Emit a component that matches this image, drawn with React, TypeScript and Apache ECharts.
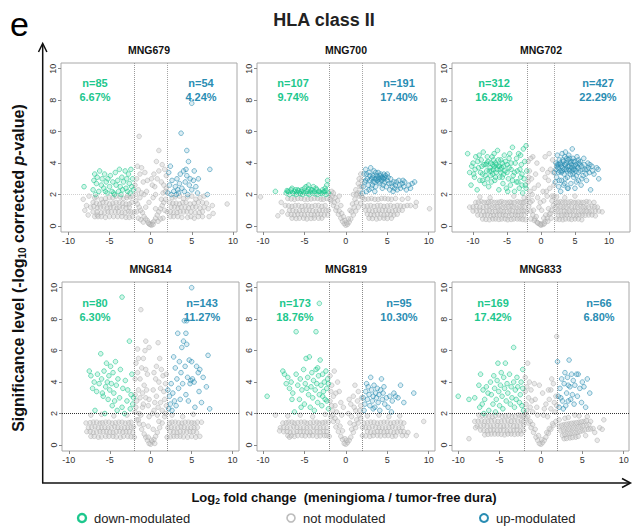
import React, { useEffect, useRef } from 'react';
import * as echarts from 'echarts';

const panelNames = ['MNG679', 'MNG700', 'MNG702', 'MNG814', 'MNG819', 'MNG833'];
const downCounts = ['n=85', 'n=107', 'n=312', 'n=80', 'n=173', 'n=169'];
const downPct = ['6.67%', '9.74%', '16.28%', '6.30%', '18.76%', '17.42%'];
const upCounts = ['n=54', 'n=191', 'n=427', 'n=143', 'n=95', 'n=66'];
const upPct = ['4.24%', '17.40%', '22.29%', '11.27%', '10.30%', '6.80%'];
const xTicks = [-10, -5, 0, 5, 10];
const yTicks = [0, 2, 4, 6, 8, 10];
const foldThreshold = 2;
const sigThreshold = 2;
const legendLabels = ['down-modulated', 'not modulated', 'up-modulated'];

// ---------- MNG679 ----------
const grey679 = [[0,0.1],[0.2,0.2],[-0.2,0.15],[0.4,0.3],[-0.4,0.35],[0.6,0.5],[-0.6,0.45],[0.8,0.7],[-0.8,0.6],[1,0.9],[-1,0.85],[1.2,1.1],[-1.2,1],[1.4,1.3],[-1.4,1.2],[1.6,1.5],[-1.6,1.4],[1.8,1.7],[-1.8,1.6],[0.1,0.05],[-0.1,0.1],[0.3,0.1],[-0.3,0.2],
[0.5,2.5],[0.8,3.0],[1.0,3.5],[1.3,2.8],[1.7,3.6],[1.9,2.4],[-0.5,2.2],[-0.9,2.8],[-1.3,3.3],[-1.6,3.8],[-1.9,2.6],[-1.1,2.1],[0.3,1.8],[0.6,2.0],[-0.2,1.5],[1.5,2.1],[-1.5,2.3],[0.7,4.1],[1.0,4.8],[-1.4,5.7],[0.1,3.0],[1.9,3.2],[-0.7,3.4],
[-7.5,1.9],[-6.8,1.8],[-6,1.7],[-5,1.8],[-4.2,1.9],[-3.3,1.75],[-2.5,1.85],[2.6,1.8],[3.5,1.9],[4.5,1.85],[5.5,1.7],[6.5,1.9],
[-7,1.5],[-6.2,1.4],[-5.4,1.5],[-4.6,1.45],[-3.8,1.5],[-3,1.4],[-2.3,1.5],[2.3,1.5],[3.1,1.45],[3.9,1.5],[4.8,1.4],[5.8,1.5],[6.8,1.45],
[-7.3,1.2],[-6.5,1.15],[-5.7,1.2],[-4.9,1.2],[-4.1,1.15],[-3.4,1.2],[-2.6,1.2],[2.5,1.2],[3.3,1.15],[4.2,1.2],[5.1,1.2],[6,1.15],[7,1.1],
[-7,0.9],[-6,0.85],[-5.2,0.9],[-4.3,0.9],[-3.5,0.85],[-2.7,0.9],[-2,0.9],[2,0.9],[2.8,0.85],[3.6,0.9],[4.4,0.9],[5.4,0.85],[6.3,0.9],
[-6.8,0.6],[-6,0.6],[-5,0.6],[-4,0.6],[-3,0.55],[-2.2,0.6],[-1.5,0.5],[1.5,0.5],[2.4,0.6],[3.3,0.6],[4.5,0.55],[5.3,0.5],[6.3,0.6],[7.1,0.6],
[9.3,1.4],[-8.2,1.7],[-6.5,0.7],
[-6.6,1.85],[-5.5,1.75],[-4.6,1.8],[-3.7,1.85],[-2.9,1.8],[-2.2,1.9],[3.0,1.85],[4.0,1.75],[5.0,1.9],[6.0,1.8],
[-6.6,1.45],[-5.8,1.5],[-5.0,1.4],[-4.2,1.5],[-3.4,1.45],[-2.6,1.4],[2.7,1.45],[3.5,1.4],[4.3,1.5],[5.3,1.45],[6.3,1.5],
[-6.9,1.25],[-6.1,1.2],[-5.3,1.15],[-4.5,1.2],[-3.8,1.2],[-3.0,1.15],[2.9,1.2],[3.7,1.2],[4.6,1.15],[5.5,1.2],[6.5,1.2],
[-6.5,0.9],[-5.6,0.85],[-4.8,0.9],[-3.9,0.9],[-3.1,0.85],[-2.4,0.9],[2.4,0.9],[3.2,0.85],[4.0,0.9],[4.9,0.9],[5.9,0.85],
[-6.4,0.6],[-5.5,0.55],[-4.5,0.6],[-3.5,0.6],[-2.6,0.55],[2.8,0.6],[3.8,0.55],[4.9,0.6],[5.8,0.6],
[-1.2,0.4],[1.2,0.45],[-0.9,0.25],[0.9,0.3],[-1.7,0.9],[1.7,1.0],[-1.3,1.8],[1.3,1.7],[-0.6,1.2],[0.6,1.1],[-1.8,2.0],[1.8,2.2],[-0.4,2.9],[0.4,3.3],[1.4,3.9],[-1.1,3.7],[-1.7,3.0],[1.6,2.6],[-0.8,2.0],[0.2,2.6],
[-7.8,1.3],[-7.6,0.7],[7.5,1.3],[7.6,0.8],[-8.0,1.0],[-2.8,1.95]];
const down679 = [[-8.1,2.5],[-7,2.3],[-6.9,2.9],[-6.8,3.3],[-6.6,2.7],[-6.5,3.1],[-6.3,2.2],[-6.2,3.5],[-6,2.6],[-5.9,3.0],[-5.7,2.4],[-5.6,3.3],[-5.4,2.8],[-5.3,2.1],[-5.2,3.0],[-5.0,2.5],[-4.9,3.2],[-4.7,2.2],[-4.6,2.8],[-4.5,2.1],[-4.3,3.4],[-4.2,2.6],[-4.0,2.9],[-3.9,2.2],[-3.8,3.6],[-3.7,2.5],[-3.5,3.1],[-3.4,2.3],[-3.3,2.8],[-3.1,3.5],[-3.0,2.4],[-2.9,3.0],[-2.8,2.2],[-2.7,3.3],[-2.6,2.7],[-2.5,2.1],[-2.4,3.6],[-2.3,2.5],[-2.2,3.0],[-2.1,2.3],[-6.7,2.0],[-5.5,2.2],[-4.4,2.0],[-3.6,2.0]];
const up679 = [[2.1,2.1],[2.2,3.4],[2.3,2.6],[2.5,2.0],[2.6,2.9],[2.8,2.2],[3.0,2.5],[3.1,2.0],[3.2,3.0],[3.4,2.1],[3.5,2.7],[3.6,3.3],[3.8,2.4],[3.7,5.9],[4.0,3.5],[4.1,2.2],[4.2,2.8],[4.4,3.2],[4.4,4.8],[4.5,2.0],[4.6,4.1],[4.7,2.6],[4.8,3.0],[5.0,2.3],[5.0,7.8],[5.2,2.9],[5.3,3.5],[5.5,2.5],[5.7,2.1],[5.8,3.0],[6.9,2.0],[7.2,3.6],[2.4,3.8],[3.3,2.3],[4.3,3.6]];

// ---------- MNG700 ----------
const grey700 = [[0,0.05],[0.2,0.1],[-0.2,0.15],[0.4,0.25],[-0.4,0.3],[0.6,0.45],[-0.6,0.5],[0.9,0.7],[-0.9,0.75],[1.2,0.95],[-1.2,1.0],[1.5,1.2],[-1.5,1.3],[1.8,1.45],[-1.8,1.6],[0.1,0.2],[-0.1,0.35],[0.3,0.45],[-0.3,0.6],
[-1.9,2.0],[-1.6,1.9],[-1.3,1.8],[-1.0,1.6],[-0.6,1.3],[-1.7,2.2],[0.5,1.0],[0.8,1.4],[1.1,1.7],[1.4,2.1],[1.7,2.5],[1.9,2.9],[1.6,1.9],[1.2,2.3],[0.9,2.0],[-0.8,1.9],[1.8,3.3],[1.5,2.7],
[-7,1.75],[-6.2,1.7],[-5.4,1.75],[-4.6,1.7],[-3.8,1.75],[-3,1.7],[-2.3,1.75],[2.3,1.7],[3.1,1.75],[3.9,1.7],[4.7,1.75],[5.5,1.7],
[-7.3,1.3],[-6.5,1.25],[-5.7,1.3],[-4.9,1.3],[-4.1,1.25],[-3.3,1.3],[-2.5,1.3],[2.2,1.25],[3,1.3],[3.8,1.3],[4.6,1.25],[5.4,1.3],[6.2,1.3],[7,1.25],[7.8,1.3],[8.4,1.25],
[-6.8,1.0],[-6,0.95],[-5.2,1.0],[-4.4,1.0],[-3.6,0.95],[-2.8,1.0],[-2.1,1.0],[2.4,1.0],[3.2,0.95],[4,1.0],[4.8,1.0],[5.6,0.95],[6.4,1.0],
[-7,0.75],[-6.2,0.7],[-5.4,0.75],[-4.6,0.75],[-3.8,0.7],[-3,0.75],[-2.2,0.7],[2.6,0.75],[3.4,0.7],[4.2,0.75],[5,0.75],[5.8,0.7],
[-6.5,0.5],[-5.6,0.5],[-4.7,0.45],[-3.8,0.5],[-2.9,0.5],[2.8,0.5],[3.7,0.45],[4.6,0.5],[5.5,0.5],
[-10.3,1.85],[-8.2,0.65],[-7.7,0.9],[10.1,1.1],[-7.8,1.5],[8.5,1.5],
[-6.6,1.72],[-5.8,1.75],[-5.0,1.7],[-4.2,1.72],[-3.4,1.75],[-2.7,1.7],[2.7,1.72],[3.5,1.7],[4.3,1.75],[5.1,1.72],[6.0,1.75],[6.8,1.7],[7.5,1.75],
[-6.9,1.28],[-6.1,1.3],[-5.3,1.25],[-4.5,1.28],[-3.7,1.3],[-2.9,1.25],[2.6,1.28],[3.4,1.25],[4.2,1.3],[5.0,1.28],[5.8,1.25],[6.6,1.28],[7.4,1.3],
[-6.4,1.0],[-5.6,0.98],[-4.8,1.0],[-4.0,0.97],[-3.2,1.0],[-2.4,0.98],[2.8,1.0],[3.6,0.98],[4.4,1.0],[5.2,0.97],[6.0,1.0],[6.8,1.0],
[-6.6,0.72],[-5.8,0.75],[-5.0,0.7],[-4.2,0.72],[-3.4,0.75],[-2.6,0.7],[3.0,0.72],[3.8,0.75],[4.6,0.7],[5.4,0.72],[6.2,0.75],
[-6.0,0.48],[-5.1,0.5],[-4.2,0.48],[-3.3,0.5],[3.2,0.48],[4.1,0.5],[5.0,0.48],
[-1.4,1.5],[-1.1,1.2],[-0.8,0.95],[-0.5,0.8],[1.3,1.5],[1.0,1.2],[0.7,0.9],[-1.9,1.7],[1.9,1.9],[1.7,2.1],[1.3,2.0],[-1.5,2.1],[1.9,2.5],[1.6,3.0],[2.0,1.8]];
const down700 = [[-8.5,2.2],[-7.2,2.1],[-7.0,2.2],[-6.8,2.0],[-6.6,2.3],[-6.4,2.1],[-6.2,2.2],[-6,2.0],[-5.8,2.3],[-5.6,2.1],[-5.4,2.2],[-5.2,2.0],[-5.0,2.4],[-4.9,2.1],[-4.7,2.2],[-4.5,2.6],[-4.4,2.0],[-4.2,2.3],[-4.0,2.1],[-3.8,2.2],[-3.6,2.4],[-3.4,2.0],[-3.2,2.2],[-3.0,2.1],[-2.8,2.3],[-2.6,2.2],[-2.4,2.0],[-2.3,2.6],[-2.2,2.9],[-2.1,2.1],[-2.5,2.4],[-3.9,2.5],[-5.3,2.3],[-6.5,2.4],[-4.8,2.5],
[-6.9,2.15],[-6.3,2.05],[-5.9,2.15],[-5.5,2.05],[-5.1,2.15],[-4.6,2.05],[-4.3,2.15],[-3.7,2.05],[-3.3,2.15],[-2.9,2.05],[-2.7,2.15],[-4.1,2.3],[-3.5,2.3],[-5.7,2.25],[-6.1,2.3],[-2.4,2.25],[-4.5,2.35],[-7.1,2.25]];
const up700 = [[2.0,2.1],[2.1,2.5],[2.2,3.3],[2.3,2.8],[2.4,3.6],[2.5,2.2],[2.6,3.0],[2.7,2.6],[2.8,3.4],[2.9,2.9],[3.0,3.7],[3.1,2.4],[3.2,3.1],[3.3,2.8],[3.4,3.5],[3.5,3.0],[3.6,2.5],[3.7,3.2],[3.8,2.9],[3.9,3.4],[4.0,3.0],[4.1,2.7],[4.2,3.3],[4.3,2.9],[4.4,3.1],[4.5,2.6],[4.6,3.0],[4.7,2.8],[4.8,3.2],[4.9,2.5],[5.0,2.9],[5.2,2.7],[5.3,2.3],[5.4,3.0],[5.6,2.5],[5.7,2.2],[5.8,2.8],[6.0,2.6],[6.2,2.3],[6.4,2.9],[6.6,2.4],[6.8,2.7],[7.0,2.5],[7.3,2.3],[7.6,2.6],[8.0,2.7],[8.3,2.8],[3.5,2.2],[4.4,2.4],[2.8,2.3],
[3.1,3.0],[3.3,3.2],[3.5,2.8],[3.7,3.0],[3.9,3.1],[4.1,3.2],[4.3,3.1],[4.5,3.0],[4.7,3.1],[2.9,3.2],[3.6,3.4],[4.0,2.8],[4.6,3.3],[5.1,3.1],[5.5,2.7],[6.1,2.8],[6.5,2.6],[5.9,2.4],[7.1,2.8],[7.8,2.4],[2.5,3.3],[3.2,2.6],[2.4,2.9],[5.0,3.3],[6.9,2.9]];

// ---------- MNG702 ----------
const grey702 = [[-9.6,1.5],[-8.8,1.55],[-8,1.5],[-7.3,1.55],[-6.5,1.5],[-5.8,1.55],[-5,1.5],[-4.3,1.5],[-3.5,1.55],[-2.8,1.5],[-2.2,1.55],[2.2,1.5],[2.9,1.55],[3.6,1.5],[4.4,1.55],[5.1,1.5],[5.9,1.5],[6.7,1.55],
[-10.5,1.2],[-9.5,1.25],[-8.5,1.2],[-7.6,1.25],[-6.8,1.2],[-6,1.25],[-5.2,1.2],[-4.4,1.25],[-3.6,1.2],[-2.8,1.2],[2.5,1.25],[3.3,1.2],[4.1,1.25],[5,1.2],[5.8,1.25],[6.6,1.2],[7.5,1.25],[8.3,1.2],
[-10,0.95],[-9,1],[-8,0.95],[-7.2,0.9],[-6.3,0.95],[-5.5,0.9],[-4.6,0.95],[-3.7,0.9],[-2.9,0.95],[-2.1,0.9],[2.1,0.9],[2.9,0.95],[3.8,0.9],[4.6,0.95],[5.5,0.9],[6.3,0.95],[7.1,0.9],[8,0.95],[9,0.9],
[-9.3,0.7],[-8.3,0.7],[-7.4,0.65],[-6.5,0.7],[-5.6,0.7],[-4.7,0.65],[-3.8,0.7],[-2.9,0.7],[2.6,0.65],[3.4,0.7],[4.3,0.7],[5.2,0.65],[6.1,0.7],[7,0.7],[8,0.65],
[-8.6,0.45],[-7.6,0.4],[-6.7,0.45],[-5.8,0.45],[-4.9,0.4],[-4,0.45],[-3.1,0.45],[-2.3,0.4],[2.3,0.45],[3.2,0.4],[4.1,0.45],[5,0.45],[6,0.4],
[-9,1.85],[-7.5,1.8],[-4,1.9],[-2.5,1.8],[2.3,1.85],[3.5,1.8],[5,1.9],
[0,0.05],[0.3,0.1],[-0.3,0.15],[0.6,0.3],[-0.6,0.25],[0.9,0.5],[-0.9,0.45],[1.2,0.75],[-1.2,0.7],[1.5,1.0],[-1.5,0.95],[1.8,1.3],[-1.8,1.25],[0.1,0.15],[-0.1,0.1],[0.5,0.15],[-0.5,0.2],[1,0.3],[-1,0.35],[1.5,0.5],[-1.5,0.45],
[-0.5,1.8],[-1,2.4],[-1.4,3],[-1.7,3.5],[-1.9,4.1],[-0.8,3.3],[-1.2,4.4],[-1.6,2.2],[-0.3,1.2],[0.4,1.6],[0.8,2.2],[1.1,2.9],[1.4,3.6],[1.7,4.2],[1.9,2.6],[0.6,3.1],[1.2,4.6],[0.9,1.9],[-1.9,2.8],[1.6,1.9],[1.4,0.8],[-1.3,1.6],
[-9.2,1.52],[-8.4,1.5],[-7.7,1.52],[-6.9,1.5],[-6.1,1.52],[-5.4,1.5],[-4.6,1.52],[-3.9,1.5],[-3.1,1.52],[-2.5,1.5],[2.5,1.52],[3.2,1.5],[4.0,1.52],[4.8,1.5],[5.5,1.52],[6.3,1.5],[7.1,1.52],[7.8,1.5],
[-10.0,1.22],[-9.0,1.2],[-8.0,1.22],[-7.2,1.2],[-6.4,1.22],[-5.6,1.2],[-4.8,1.22],[-4.0,1.2],[-3.2,1.22],[-2.4,1.2],[2.1,1.2],[2.9,1.22],[3.7,1.2],[4.5,1.22],[5.4,1.2],[6.2,1.22],[7.0,1.2],[7.9,1.22],
[-9.5,0.95],[-8.5,0.92],[-7.6,0.95],[-6.7,0.92],[-5.9,0.95],[-5.0,0.92],[-4.2,0.95],[-3.3,0.92],[-2.5,0.95],[2.5,0.92],[3.4,0.95],[4.2,0.92],[5.0,0.95],[5.9,0.92],[6.7,0.95],[7.5,0.92],[8.5,0.95],
[-8.8,0.68],[-7.9,0.7],[-7.0,0.68],[-6.1,0.7],[-5.2,0.68],[-4.3,0.7],[-3.4,0.68],[-2.5,0.7],[3.0,0.68],[3.8,0.7],[4.8,0.68],[5.6,0.7],[6.5,0.68],[7.5,0.7],
[-8.1,0.42],[-7.1,0.45],[-6.2,0.42],[-5.3,0.45],[-4.4,0.42],[-3.5,0.45],[-2.7,0.42],[2.7,0.42],[3.6,0.45],[4.5,0.42],[5.5,0.45],
[-1.1,1.0],[-0.7,0.6],[1.1,1.1],[0.7,0.7],[-1.6,1.5],[1.6,1.6],[-1.9,1.8],[1.9,1.9],[-0.4,2.6],[0.3,2.2],[-1.3,2.0],[1.3,2.4],[0.2,3.6],[-0.6,4.0],[1.0,3.4],[-1.8,3.1],[1.8,3.4],[0.6,4.4],[-1.5,4.3],[0.1,1.0],[-0.1,1.5],[0.4,0.5]];
const down702 = [[-10.8,4.6],[-10.5,3.4],[-10.3,2.6],[-10.0,4.0],[-9.8,3.1],[-9.6,4.4],[-9.4,2.3],[-9.2,3.7],[-9.0,2.9],[-8.8,4.2],[-8.6,3.3],[-8.5,4.7],[-8.3,2.7],[-8.1,3.9],[-8.0,3.5],[-7.8,4.1],[-7.7,2.5],[-7.5,3.7],[-7.4,3.2],[-7.2,4.4],[-7.1,3.9],[-7.0,3.6],[-6.8,2.9],[-6.7,4.0],[-6.6,3.4],[-6.4,4.8],[-6.3,3.8],[-6.2,2.3],[-6.0,3.6],[-5.9,4.2],[-5.7,3.1],[-5.6,2.7],[-5.4,4.5],[-5.3,3.5],[-5.1,2.4],[-5.0,3.9],[-4.8,3.0],[-4.7,4.3],[-4.5,2.6],[-4.4,3.6],[-4.2,5.0],[-4.1,3.2],[-3.9,2.2],[-3.8,4.0],[-3.6,2.8],[-3.5,3.5],[-3.3,4.6],[-3.2,2.4],[-3.0,3.1],[-2.9,3.9],[-2.7,2.1],[-2.6,4.9],[-2.5,3.0],[-2.3,2.6],[-2.2,5.1],[-2.1,3.5],[-7.9,3.0],[-6.9,4.6],[-6.1,3.1],[-8.7,3.8],[-5.5,3.8],[-7.3,2.8],[-9.1,4.5],[-4.9,2.2],
[-10.2,3.8],[-9.7,3.6],[-9.3,4.1],[-8.9,3.4],[-8.4,3.9],[-8.2,3.2],[-7.9,4.4],[-7.6,3.5],[-7.4,4.0],[-7.1,3.3],[-6.9,3.8],[-6.7,3.1],[-6.5,3.6],[-6.3,4.2],[-6.1,3.8],[-5.9,3.4],[-5.7,4.0],[-5.5,3.3],[-5.2,4.1],[-5.0,3.4],[-4.7,3.7],[-4.4,4.0],[-4.2,2.9],[-3.9,3.4],[-3.6,4.3],[-3.4,2.8],[-3.1,3.6],[-2.8,3.3],[-2.4,4.1],[-2.2,2.4],[-7.0,4.2],[-8.0,4.0],[-6.6,3.9],[-7.3,3.5],[-5.8,3.7],[-9.9,3.3],[-8.6,2.9],[-4.6,4.6],[-3.0,4.5],[-2.8,2.6]];
const up702 = [[2.0,3.4],[2.1,2.8],[2.2,4.0],[2.3,3.1],[2.4,4.5],[2.5,3.7],[2.6,2.5],[2.7,4.2],[2.8,3.5],[2.9,3.9],[3.0,2.9],[3.1,4.6],[3.2,3.7],[3.3,4.1],[3.4,3.3],[3.5,3.9],[3.6,4.7],[3.7,3.6],[3.8,4.3],[3.9,3.1],[4.0,3.8],[4.1,4.5],[4.2,3.5],[4.3,4.0],[4.4,2.7],[4.5,3.7],[4.6,4.9],[4.7,3.3],[4.8,4.1],[4.9,3.6],[5.0,2.4],[5.1,3.9],[5.2,3.2],[5.3,4.4],[5.4,3.7],[5.5,2.9],[5.6,4.0],[5.8,3.5],[5.9,2.6],[6.0,3.8],[6.2,3.2],[6.3,4.3],[6.5,3.6],[6.7,2.9],[6.9,4.0],[7.1,3.4],[7.3,2.3],[7.5,3.8],[7.8,3.3],[8.2,3.7],[8.5,3.0],[8.4,3.6],[3.0,3.4],[3.6,3.0],[4.2,4.3],[2.6,3.9],[5.5,4.2],[3.3,2.6],[6.8,3.6],[4.8,3.1],[2.9,2.2],[3.9,2.4],
[2.2,3.6],[2.4,3.9],[2.6,3.4],[2.8,4.0],[3.0,3.8],[3.2,4.2],[3.4,3.6],[3.5,4.4],[3.6,3.9],[3.8,3.5],[4.0,4.2],[4.1,3.6],[4.3,3.3],[4.4,4.1],[4.5,3.9],[4.6,3.5],[4.7,4.3],[4.9,3.8],[5.0,4.1],[5.1,3.5],[5.3,3.8],[5.5,3.4],[5.7,3.9],[6.1,3.6],[6.4,3.9],[6.6,3.3],[7.0,3.7],[7.6,3.5],[2.3,3.8],[3.1,3.5],[3.7,4.0],[4.2,3.8],[4.8,3.6],[5.8,4.1],[2.7,2.9],[3.5,2.7],[4.0,2.4],[5.2,2.8],[6.0,3.0],[7.2,3.9]];

// ---------- MNG814 ----------
const grey814 = [[0,0.05],[0.2,0.2],[-0.2,0.1],[0.4,0.35],[-0.4,0.3],[0.6,0.55],[-0.6,0.5],[0.8,0.8],[-0.8,0.7],[1.1,1.1],[-1.1,1.0],[1.4,1.4],[-1.4,1.35],[1.7,1.8],[-1.7,1.6],[0.1,0.3],[-0.3,0.5],[0.5,0.1],
[-1.9,2.1],[-1.7,2.8],[-1.5,3.5],[-1.3,4.2],[-1.1,4.9],[-0.9,5.5],[-0.7,6.0],[-1.2,8.6],[-0.6,6.6],[-0.4,4.5],[-0.8,3.8],[-1.6,4.6],[-1.8,5.2],[-0.3,2.5],[-0.6,3.0],[-1.0,2.4],[-1.4,2.0],[0.4,2.2],[0.7,3.1],[1.0,4.0],[1.3,4.8],[1.6,3.4],[1.9,2.5],[0.9,6.5],[1.5,4.4],[1.1,5.5],[0.6,4.2],[1.8,3.9],[0.3,3.5],[-0.2,1.8],[0.8,1.9],[1.2,2.7],[-1.9,3.2],[1.7,2.9],
[-7.9,1.4],[-7,1.45],[-6.2,1.4],[-5.5,1.45],[-4.7,1.4],[-3.9,1.45],[-3.1,1.4],[-2.4,1.45],[2.3,1.4],[3,1.45],[3.8,1.4],[4.6,1.45],[5.3,1.4],[6.2,1.45],
[-7.6,1.1],[-6.8,1.15],[-6,1.1],[-5.2,1.1],[-4.4,1.15],[-3.6,1.1],[-2.8,1.1],[-2.1,1.15],[2.1,1.1],[2.9,1.1],[3.7,1.15],[4.5,1.1],[5.3,1.1],
[-7.8,0.85],[-7,0.8],[-6.2,0.85],[-5.4,0.85],[-4.6,0.8],[-3.8,0.85],[-3,0.85],[-2.2,0.8],[2.4,0.85],[3.2,0.8],[4,0.85],[4.8,0.85],[5.6,0.8],
[-7.3,0.55],[-6.4,0.5],[-5.5,0.55],[-4.6,0.55],[-3.7,0.5],[-2.8,0.55],[-2,0.5],[2,0.5],[2.8,0.55],[3.6,0.55],[4.5,0.5],[6,0.55],
[-7.3,1.9],[-6,1.95],[-4.5,1.85],[-2.9,1.9],[2.6,1.9],[3.9,1.8],[5.2,1.95],
[-7.4,1.42],[-6.6,1.45],[-5.9,1.42],[-5.1,1.45],[-4.3,1.42],[-3.5,1.45],[-2.7,1.42],[2.6,1.45],[3.4,1.42],[4.2,1.45],[5.0,1.42],[5.7,1.45],
[-7.2,1.12],[-6.4,1.1],[-5.6,1.12],[-4.8,1.1],[-4.0,1.12],[-3.2,1.1],[-2.4,1.12],[2.5,1.12],[3.3,1.1],[4.1,1.12],[4.9,1.1],[5.7,1.12],
[-7.4,0.85],[-6.6,0.82],[-5.8,0.85],[-5.0,0.82],[-4.2,0.85],[-3.4,0.82],[-2.6,0.85],[2.8,0.82],[3.6,0.85],[4.4,0.82],[5.2,0.85],
[-6.9,0.55],[-6.0,0.52],[-5.1,0.55],[-4.2,0.52],[-3.3,0.55],[-2.4,0.52],[2.4,0.52],[3.2,0.55],[4.0,0.52],[5.0,0.55],[5.5,0.5],
[-1.5,1.6],[-1.2,1.9],[-0.9,2.6],[-0.5,3.5],[-0.2,2.9],[0.2,2.0],[0.5,2.7],[0.9,2.4],[1.4,2.2],[1.8,2.0],[-1.8,2.4],[-1.3,3.0],[-1.0,3.3],[-0.6,4.8],[-1.5,5.5],[0.7,5.0],[1.2,3.6],[-0.3,1.2],[0.3,1.0],[-0.9,1.3],[1.0,1.5],[-1.9,4.2],[1.9,4.5],[-1.6,6.1],[0.4,4.6],[-0.2,6.2]];
const down814 = [[-7.5,4.7],[-7.3,4.4],[-7.1,3.6],[-6.9,4.0],[-6.8,2.2],[-6.6,3.4],[-6.5,4.5],[-6.3,3.9],[-6.1,5.8],[-6.0,4.2],[-5.8,3.1],[-5.7,4.7],[-5.6,2.0],[-5.5,3.7],[-5.4,5.2],[-5.3,4.0],[-5.2,2.9],[-5.1,4.4],[-5.0,3.5],[-4.9,5.0],[-4.8,3.9],[-4.7,2.5],[-4.6,4.6],[-4.5,3.3],[-4.3,5.3],[-4.2,3.8],[-4.1,2.2],[-4.0,4.2],[-3.8,3.0],[-3.7,4.8],[-3.5,2.4],[-3.5,9.4],[-3.4,3.6],[-3.2,2.0],[-3.1,4.1],[-2.9,2.8],[-2.8,3.5],[-2.6,6.6],[-2.5,2.3],[-2.4,3.2],[-2.3,4.5],[-2.2,2.6],[-2.1,3.0],[-5.9,3.3],[-4.4,2.8]];
const up814 = [[2.1,3.5],[2.2,2.3],[2.3,3.1],[2.4,2.6],[2.5,3.9],[2.6,2.2],[2.7,3.3],[2.8,5.6],[2.9,2.8],[3.0,4.9],[3.1,2.5],[3.2,4.2],[3.3,7.1],[3.4,3.6],[3.5,5.3],[3.6,2.9],[3.7,4.6],[3.8,6.2],[3.9,3.9],[4.0,6.6],[4.1,7.9],[4.2,5.0],[4.3,7.1],[4.4,6.4],[4.4,7.9],[4.5,4.3],[4.6,2.8],[4.7,5.4],[4.8,3.9],[4.9,4.1],[5.0,10.0],[5.0,5.3],[5.1,4.2],[5.3,4.0],[5.4,2.4],[5.6,5.0],[5.8,4.6],[5.9,3.4],[6.0,4.8],[6.2,2.7],[6.4,4.3],[6.8,3.7],[7.0,5.7],[7.2,2.3],[4.3,3.2]];

// ---------- MNG819 ----------
const grey819 = [[0,0.05],[0.2,0.15],[-0.2,0.1],[0.4,0.3],[-0.4,0.35],[0.6,0.5],[-0.6,0.55],[0.9,0.8],[-0.9,0.85],[1.2,1.1],[-1.2,1.15],[1.5,1.4],[-1.5,1.5],[1.8,1.7],[-1.8,1.8],[0.1,0.3],[-0.1,0.4],
[-1.9,4.4],[-1.7,3.8],[-1.5,3.1],[-1.3,2.5],[-1.1,2.1],[-0.8,3.4],[-1.6,2.2],[-1.9,2.8],[-0.5,1.9],[-1.0,4.0],[-1.4,4.7],[0.3,2.0],[0.6,2.6],[0.9,3.1],[1.2,2.2],[1.5,3.4],[1.8,2.5],[1.1,3.8],[1.9,3.0],[0.7,1.8],[-0.3,2.4],
[-7.6,1.4],[-6.9,1.45],[-6.2,1.4],[-5.4,1.45],[-4.7,1.4],[-3.9,1.45],[-3.2,1.4],[-2.5,1.45],[2.2,1.4],[3,1.45],[3.8,1.4],[4.6,1.45],[5.4,1.4],[6.2,1.45],[7,1.4],[9.4,1.5],
[-7.9,1.1],[-7.1,1.1],[-6.3,1.15],[-5.5,1.1],[-4.7,1.1],[-3.9,1.15],[-3.1,1.1],[-2.3,1.1],[2.4,1.1],[3.2,1.15],[4,1.1],[4.8,1.1],[5.6,1.15],[6.4,1.1],
[-7.5,0.85],[-6.7,0.8],[-5.9,0.85],[-5.1,0.85],[-4.3,0.8],[-3.5,0.85],[-2.7,0.85],[2.6,0.85],[3.4,0.8],[4.2,0.85],[5,0.85],[5.8,0.8],[6.6,0.85],[7.5,0.8],
[-7,0.6],[-6.2,0.55],[-5.3,0.6],[-4.4,0.6],[-3.5,0.55],[-2.6,0.6],[-2,0.55],[2,0.6],[2.9,0.55],[3.8,0.6],[4.7,0.6],[5.6,0.55],[7.3,0.6],[8.5,0.6],
[-8.5,1.9],[-7,1.85],[-5.5,1.9],[-4,1.8],[-2.5,1.95],[2.6,1.85],[4,1.9],[5.2,1.8],[6.5,1.85],[-8,0.9],[-6.8,0.5],
[-7.2,1.42],[-6.5,1.45],[-5.8,1.42],[-5.0,1.45],[-4.3,1.42],[-3.5,1.45],[-2.8,1.42],[-2.1,1.45],[2.6,1.42],[3.4,1.45],[4.2,1.42],[5.0,1.45],[5.8,1.42],[6.6,1.45],
[-7.5,1.12],[-6.7,1.1],[-5.9,1.12],[-5.1,1.1],[-4.3,1.12],[-3.5,1.1],[-2.7,1.12],[2.0,1.12],[2.8,1.1],[3.6,1.12],[4.4,1.1],[5.2,1.12],[6.0,1.1],[6.8,1.12],
[-7.1,0.85],[-6.3,0.82],[-5.5,0.85],[-4.7,0.82],[-3.9,0.85],[-3.1,0.82],[-2.3,0.85],[3.0,0.82],[3.8,0.85],[4.6,0.82],[5.4,0.85],[6.2,0.82],[7.0,0.85],
[-6.6,0.58],[-5.8,0.6],[-4.9,0.58],[-4.0,0.6],[-3.1,0.58],[-2.3,0.6],[2.4,0.58],[3.3,0.6],[4.2,0.58],[5.1,0.6],[6.0,0.58],[6.8,0.6],
[-1.6,1.9],[-1.3,1.7],[-1.0,1.5],[-0.7,1.2],[1.6,1.9],[1.3,1.6],[1.0,1.3],[0.7,1.0],[-1.8,3.4],[-1.2,3.3],[-0.6,2.7],[0.4,2.9],[1.0,2.4],[1.4,2.8],[-1.7,2.5],[0.5,1.4],[-0.4,0.9],[1.7,2.2]];
const down819 = [[-9.5,3.1],[-7.6,4.7],[-7.4,4.5],[-7.2,3.9],[-7.0,4.3],[-6.8,3.6],[-6.6,4.0],[-6.4,3.3],[-6.2,2.1],[-6.0,7.2],[-6.0,4.5],[-5.8,3.8],[-5.6,2.9],[-5.5,4.2],[-5.3,3.5],[-5.1,4.8],[-5.0,2.6],[-4.9,3.9],[-4.8,5.5],[-4.6,4.3],[-4.5,3.2],[-4.4,5.6],[-4.3,2.4],[-4.2,3.7],[-4.1,4.6],[-4.0,3.0],[-3.9,4.1],[-3.8,2.2],[-3.7,3.5],[-3.6,7.2],[-3.6,4.8],[-3.5,3.9],[-3.4,2.7],[-3.3,4.4],[-3.2,9.0],[-3.2,3.2],[-3.1,5.4],[-3.0,3.8],[-2.9,2.5],[-2.8,4.5],[-2.7,3.4],[-2.6,4.0],[-2.5,2.9],[-2.4,4.7],[-2.3,3.6],[-2.2,4.2],[-2.1,2.3],[-2.1,3.9],[-2.3,2.8],[-2.8,3.1],[-3.4,4.9],[-4.7,3.6],[-5.4,2.4],[-6.5,2.9]];
const up819 = [[2.1,3.0],[2.3,2.6],[2.4,3.4],[2.6,2.9],[2.7,3.7],[2.8,3.2],[2.9,2.5],[3.0,4.3],[3.1,3.5],[3.2,2.8],[3.3,3.1],[3.4,3.8],[3.5,2.4],[3.6,3.3],[3.7,3.0],[3.8,3.6],[3.9,2.7],[4.0,3.2],[4.1,2.2],[4.2,3.5],[4.3,4.2],[4.4,2.9],[4.5,3.3],[4.7,2.6],[4.9,3.0],[5.1,2.4],[5.3,3.1],[5.5,2.1],[5.6,2.8],[5.8,3.3],[6.0,3.1],[6.3,3.0],[6.6,3.8],[7.0,2.7],[8.2,3.3],[3.3,2.3],[2.5,3.9],[4.6,3.7],[2.2,2.2]];

// ---------- MNG833 ----------
const grey833 = [[0,0.05],[0.2,0.15],[-0.2,0.1],[0.4,0.3],[-0.4,0.3],[0.6,0.5],[-0.6,0.5],[0.9,0.75],[-0.9,0.8],[1.2,1.0],[-1.2,1.1],[1.5,1.25],[-1.5,1.4],[1.8,1.5],[-1.8,1.7],[0.1,0.35],[-0.3,0.6],
[-1.9,4.3],[-1.7,3.7],[-1.5,3.0],[-1.3,2.4],[-1.0,2.1],[-0.7,2.9],[-1.2,3.5],[-1.8,2.6],[-0.4,1.9],[-1.6,5.2],[-0.8,3.9],[0.3,1.9],[0.6,2.6],[0.9,3.5],[1.2,2.3],[1.5,3.9],[1.8,3.1],[1.9,6.9],[1.3,4.2],[0.8,1.8],[1.7,2.1],[-1.9,2.0],
[-7.5,1.9],[-6.7,1.85],[-5.9,1.8],[-5.1,1.9],[-4.3,1.85],[-3.5,1.8],[-2.7,1.9],[-2.1,1.85],
[-8,1.5],[-7.2,1.55],[-6.4,1.5],[-5.6,1.55],[-4.8,1.5],[-4,1.55],[-3.2,1.5],[-2.4,1.55],
[-7.7,1.2],[-6.9,1.25],[-6.1,1.2],[-5.3,1.25],[-4.5,1.2],[-3.7,1.25],[-2.9,1.2],[-2.1,1.25],
[-7.3,0.95],[-6.5,0.9],[-5.7,0.95],[-4.9,0.95],[-4.1,0.9],[-3.3,0.95],[-2.5,0.9],
[-6.8,0.65],[-6,0.7],[-5.2,0.7],[-4.4,0.65],[-3.6,0.7],[-2.8,0.7],[-8.7,0.4],[-7.9,1.1],
[2.2,1.2],[2.8,1.3],[3.4,1.35],[4.0,1.4],[4.6,1.45],[5.2,1.5],[2.4,0.9],[3.0,1.0],[3.6,1.05],[4.2,1.1],[4.8,1.2],[5.5,1.25],[2.6,0.6],[3.2,0.7],[3.8,0.75],[4.4,0.8],[5.0,0.9],[5.7,1.0],[6.3,1.05],[2.8,0.4],[3.5,0.45],[4.2,0.5],[5.4,0.6],[6.0,1.5],[6.5,0.8],[7.1,1.1],[7.6,1.6],[5.6,1.8],[4.1,1.9],[2.9,1.7],[7.4,1.0],[6.8,0.3],
[-7.1,1.88],[-6.3,1.82],[-5.5,1.88],[-4.7,1.82],[-3.9,1.88],[-3.1,1.82],[-2.4,1.88],
[-7.6,1.52],[-6.8,1.5],[-6.0,1.52],[-5.2,1.5],[-4.4,1.52],[-3.6,1.5],[-2.8,1.52],[-2.1,1.5],
[-7.3,1.22],[-6.5,1.2],[-5.7,1.22],[-4.9,1.2],[-4.1,1.22],[-3.3,1.2],[-2.5,1.22],
[-6.9,0.92],[-6.1,0.95],[-5.3,0.92],[-4.5,0.95],[-3.7,0.92],[-2.9,0.95],[-2.1,0.92],
[-6.4,0.68],[-5.6,0.7],[-4.8,0.68],[-4.0,0.7],[-3.2,0.68],[-2.4,0.7],
[2.5,1.25],[3.1,1.32],[3.7,1.38],[4.3,1.42],[4.9,1.48],[5.5,1.55],[2.7,0.95],[3.3,1.02],[3.9,1.08],[4.5,1.15],[5.1,1.22],[5.8,1.3],[2.9,0.65],[3.5,0.72],[4.1,0.78],[4.7,0.85],[5.3,0.95],[6.0,1.02],[3.1,0.42],[3.8,0.48],[4.5,0.55],[2.2,1.6],[3.3,1.75],[4.6,1.85],
[-1.6,1.8],[-1.3,1.5],[-1.0,1.3],[-0.7,1.0],[1.4,1.35],[1.0,1.05],[0.7,0.8],[-0.5,2.4],[-1.1,2.8],[-1.4,4.0],[0.4,2.3],[1.0,2.9],[1.6,2.7],[0.2,3.3],[-0.2,3.8],[1.2,3.5],[-1.9,3.4],[1.9,2.5],[-1.7,2.2]];
const down833 = [[-10.0,3.1],[-8.7,2.9],[-8.0,3.0],[-7.5,3.8],[-7.3,4.5],[-7.1,2.6],[-7.0,3.5],[-6.8,2.9],[-6.6,3.7],[-6.4,3.3],[-6.3,2.2],[-6.1,4.0],[-6.0,3.2],[-5.8,2.6],[-5.7,4.4],[-5.6,3.6],[-5.4,2.9],[-5.3,4.1],[-5.2,5.2],[-5.1,3.4],[-5.0,2.5],[-4.9,3.8],[-4.8,4.6],[-4.7,3.1],[-4.6,2.3],[-4.5,4.3],[-4.4,3.6],[-4.3,5.2],[-4.2,2.8],[-4.1,3.9],[-4.0,3.3],[-3.8,4.5],[-3.7,2.6],[-3.6,3.7],[-3.5,3.0],[-3.3,6.2],[-3.3,4.0],[-3.2,2.4],[-3.1,3.5],[-3.0,2.9],[-2.9,4.3],[-2.8,3.7],[-2.6,2.7],[-2.5,3.2],[-2.4,4.0],[-2.3,2.5],[-2.2,3.6],[-2.1,2.2],[-2.2,4.8],[-6.9,2.0],[-5.5,2.1],[-7.4,2.4]];
const up833 = [[2.0,5.3],[2.1,3.1],[2.2,2.4],[2.3,3.6],[2.5,4.2],[2.6,2.8],[2.8,3.9],[2.9,4.6],[3.0,2.5],[3.1,3.3],[3.2,4.3],[3.3,2.8],[3.4,5.4],[3.5,3.7],[3.6,2.9],[3.7,4.5],[3.8,3.2],[3.9,4.1],[4.0,2.6],[4.1,3.8],[4.3,4.5],[4.4,3.1],[4.5,4.5],[4.7,3.6],[4.9,2.7],[5.0,4.0],[5.2,3.7],[5.4,2.4],[5.6,4.2],[5.9,3.3],[2.4,3.0],[3.3,3.8],[2.7,2.3]];

const greyData = [grey679, grey700, grey702, grey814, grey819, grey833];
const downData = [down679, down700, down702, down814, down819, down833];
const upData = [up679, up700, up702, up814, up819, up833];

const GREEN = '#1dc78d';
const BLUE = '#2a8db3';
const FONT = '"Liberation Sans", Arial, sans-serif';

const layouts = [
  { left: 61, top: 63, width: 176, height: 169, xMin: -10.9, xMax: 10.5 },
  { left: 257, top: 63, width: 178, height: 169, xMin: -10.72, xMax: 10.76 },
  { left: 452, top: 63, width: 178, height: 169, xMin: -13.1, xMax: 13.1 },
  { left: 62, top: 282, width: 177, height: 169, xMin: -10.83, xMax: 10.78 },
  { left: 257, top: 282, width: 178, height: 169, xMin: -10.72, xMax: 10.76 },
  { left: 452, top: 282, width: 177, height: 169, xMin: -10.75, xMax: 10.64 },
];
const Y_MIN = -0.38;
const Y_MAX = 10.36;
const labelPos = [
  [95, 201, 83], [293, 399, 83], [494, 598, 83],
  [95, 202, 303], [295, 399, 303], [493, 599, 303],
];

export default function App() {
  const ref = useRef<HTMLDivElement>(null);
  useEffect(() => {
    if (!ref.current) return;
    const chart = echarts.init(ref.current, undefined, { renderer: 'svg' });
    const grid: any[] = [];
    const xAxis: any[] = [];
    const yAxis: any[] = [];
    const series: any[] = [];
    const graphic: any[] = [];

    layouts.forEach((l, i) => {
      const bottomRow = i >= 3;
      grid.push({ left: l.left, top: l.top, width: l.width, height: l.height, show: true, borderColor: '#a8a8a8', borderWidth: 1, backgroundColor: 'transparent' });
      xAxis.push({
        type: 'value', gridIndex: i, min: l.xMin, max: l.xMax,
        axisLine: { show: false, onZero: false },
        splitLine: { show: false },
        axisTick: { show: true, customValues: xTicks, length: 3, lineStyle: { color: '#888' } },
        axisLabel: { customValues: xTicks, fontSize: 9, color: '#333', margin: 4, fontFamily: FONT, formatter: (v: number) => String(v) },
      });
      yAxis.push({
        type: 'value', gridIndex: i, min: Y_MIN, max: Y_MAX,
        axisLine: { show: false, onZero: false },
        splitLine: { show: false },
        axisTick: { show: true, customValues: yTicks, length: 3, lineStyle: { color: '#888' } },
        axisLabel: { customValues: yTicks, fontSize: 9, color: '#333', margin: 4, rotate: 90, fontFamily: FONT },
      });
      series.push({
        type: 'scatter', xAxisIndex: i, yAxisIndex: i, data: greyData[i], symbolSize: 4.6,
        itemStyle: { color: 'rgba(200,200,200,0.5)', borderColor: 'rgba(160,160,160,0.75)', borderWidth: 0.7 },
        markLine: {
          silent: true, symbol: ['none', 'none'], label: { show: false },
          data: [
            { xAxis: -foldThreshold, lineStyle: { type: 'dotted', color: bottomRow ? '#8a8a8a' : '#9a9a9a', width: 1 } },
            { xAxis: foldThreshold, lineStyle: { type: 'dotted', color: bottomRow ? '#8a8a8a' : '#a5a5a5', width: 1 } },
            { yAxis: sigThreshold, lineStyle: { type: 'dotted', color: bottomRow ? '#333' : '#d0d0d0', width: 1 } },
          ],
        },
      });
      series.push({
        type: 'scatter', xAxisIndex: i, yAxisIndex: i, data: downData[i], symbolSize: 4.6,
        itemStyle: { color: 'rgba(40,205,145,0.25)', borderColor: 'rgba(29,199,141,0.9)', borderWidth: 0.8 },
      });
      series.push({
        type: 'scatter', xAxisIndex: i, yAxisIndex: i, data: upData[i], symbolSize: 4.6,
        itemStyle: { color: 'rgba(42,141,179,0.2)', borderColor: 'rgba(42,141,179,0.9)', borderWidth: 0.8 },
      });

      graphic.push({ type: 'text', x: l.left + l.width / 2, y: l.top - 13, style: { text: panelNames[i], font: `bold 10.5px ${FONT}`, fill: '#111', textAlign: 'center', textVerticalAlign: 'middle' } });
      const [dx, ux, ty] = labelPos[i];
      graphic.push({ type: 'text', x: dx, y: ty, style: { text: downCounts[i], font: `bold 11px ${FONT}`, fill: GREEN, textAlign: 'center', textVerticalAlign: 'middle' } });
      graphic.push({ type: 'text', x: dx, y: ty + 14, style: { text: downPct[i], font: `bold 11px ${FONT}`, fill: GREEN, textAlign: 'center', textVerticalAlign: 'middle' } });
      graphic.push({ type: 'text', x: ux, y: ty, style: { text: upCounts[i], font: `bold 11px ${FONT}`, fill: BLUE, textAlign: 'center', textVerticalAlign: 'middle' } });
      graphic.push({ type: 'text', x: ux, y: ty + 14, style: { text: upPct[i], font: `bold 11px ${FONT}`, fill: BLUE, textAlign: 'center', textVerticalAlign: 'middle' } });
    });

    graphic.push({ type: 'text', x: 10, y: 24, style: { text: 'e', font: `34px ${FONT}`, fill: '#000', textAlign: 'left', textVerticalAlign: 'middle' } });
    graphic.push({ type: 'text', x: 324, y: 20, style: { text: 'HLA class II', font: `bold 18px ${FONT}`, fill: '#222', textAlign: 'center', textVerticalAlign: 'middle' } });

    graphic.push({ type: 'line', shape: { x1: 42.7, y1: 483, x2: 42.7, y2: 44 }, style: { stroke: '#111', lineWidth: 1.5 } });
    graphic.push({ type: 'polyline', shape: { points: [[38.5, 52], [42.7, 43.5], [46.9, 52]] }, style: { stroke: '#111', lineWidth: 1.5, fill: 'none' } });
    graphic.push({ type: 'line', shape: { x1: 42, y1: 483, x2: 630, y2: 483 }, style: { stroke: '#111', lineWidth: 1.5 } });
    graphic.push({ type: 'polyline', shape: { points: [[622, 478.5], [630.5, 483], [622, 487.5]] }, style: { stroke: '#111', lineWidth: 1.5, fill: 'none' } });

    graphic.push({
      type: 'text', x: 344, y: 497,
      style: {
        text: '{b|Log}{s|2}{b| fold change  (meningioma / tumor-free dura)}',
        textAlign: 'center', textVerticalAlign: 'middle',
        rich: {
          b: { font: `bold 13px ${FONT}`, fill: '#111', lineHeight: 16 },
          s: { font: `bold 8.5px ${FONT}`, fill: '#111', lineHeight: 8, verticalAlign: 'bottom' },
        },
      },
    });
    graphic.push({
      type: 'text', x: 18, y: 268, rotation: Math.PI / 2,
      style: {
        text: '{b|Significance level (-log}{s|10}{b| corrected }{i|p}{b|-value)}',
        textAlign: 'center', textVerticalAlign: 'middle',
        rich: {
          b: { font: `bold 16px ${FONT}`, fill: '#111', lineHeight: 19 },
          s: { font: `bold 10px ${FONT}`, fill: '#111', lineHeight: 9, verticalAlign: 'bottom' },
          i: { font: `italic bold 16px ${FONT}`, fill: '#111', lineHeight: 19 },
        },
      },
    });

    const legendItems = [
      { cx: 82, color: GREEN, w: 2.4 },
      { cx: 291, color: '#bdbdbd', w: 1.6 },
      { cx: 484, color: BLUE, w: 2.0 },
    ];
    legendItems.forEach((it, k) => {
      graphic.push({ type: 'circle', shape: { cx: it.cx, cy: 518, r: 4 }, style: { fill: 'none', stroke: it.color, lineWidth: it.w } });
      graphic.push({ type: 'text', x: it.cx + 12, y: 518, style: { text: legendLabels[k], font: `13px ${FONT}`, fill: '#222', textAlign: 'left', textVerticalAlign: 'middle' } });
    });

    chart.setOption({ animation: false, backgroundColor: '#fff', grid, xAxis, yAxis, series, graphic });
    return () => chart.dispose();
  }, []);
  return <div ref={ref} style={{ position: 'fixed', left: 0, top: 0, width: 635, height: 528 }} />;
}
